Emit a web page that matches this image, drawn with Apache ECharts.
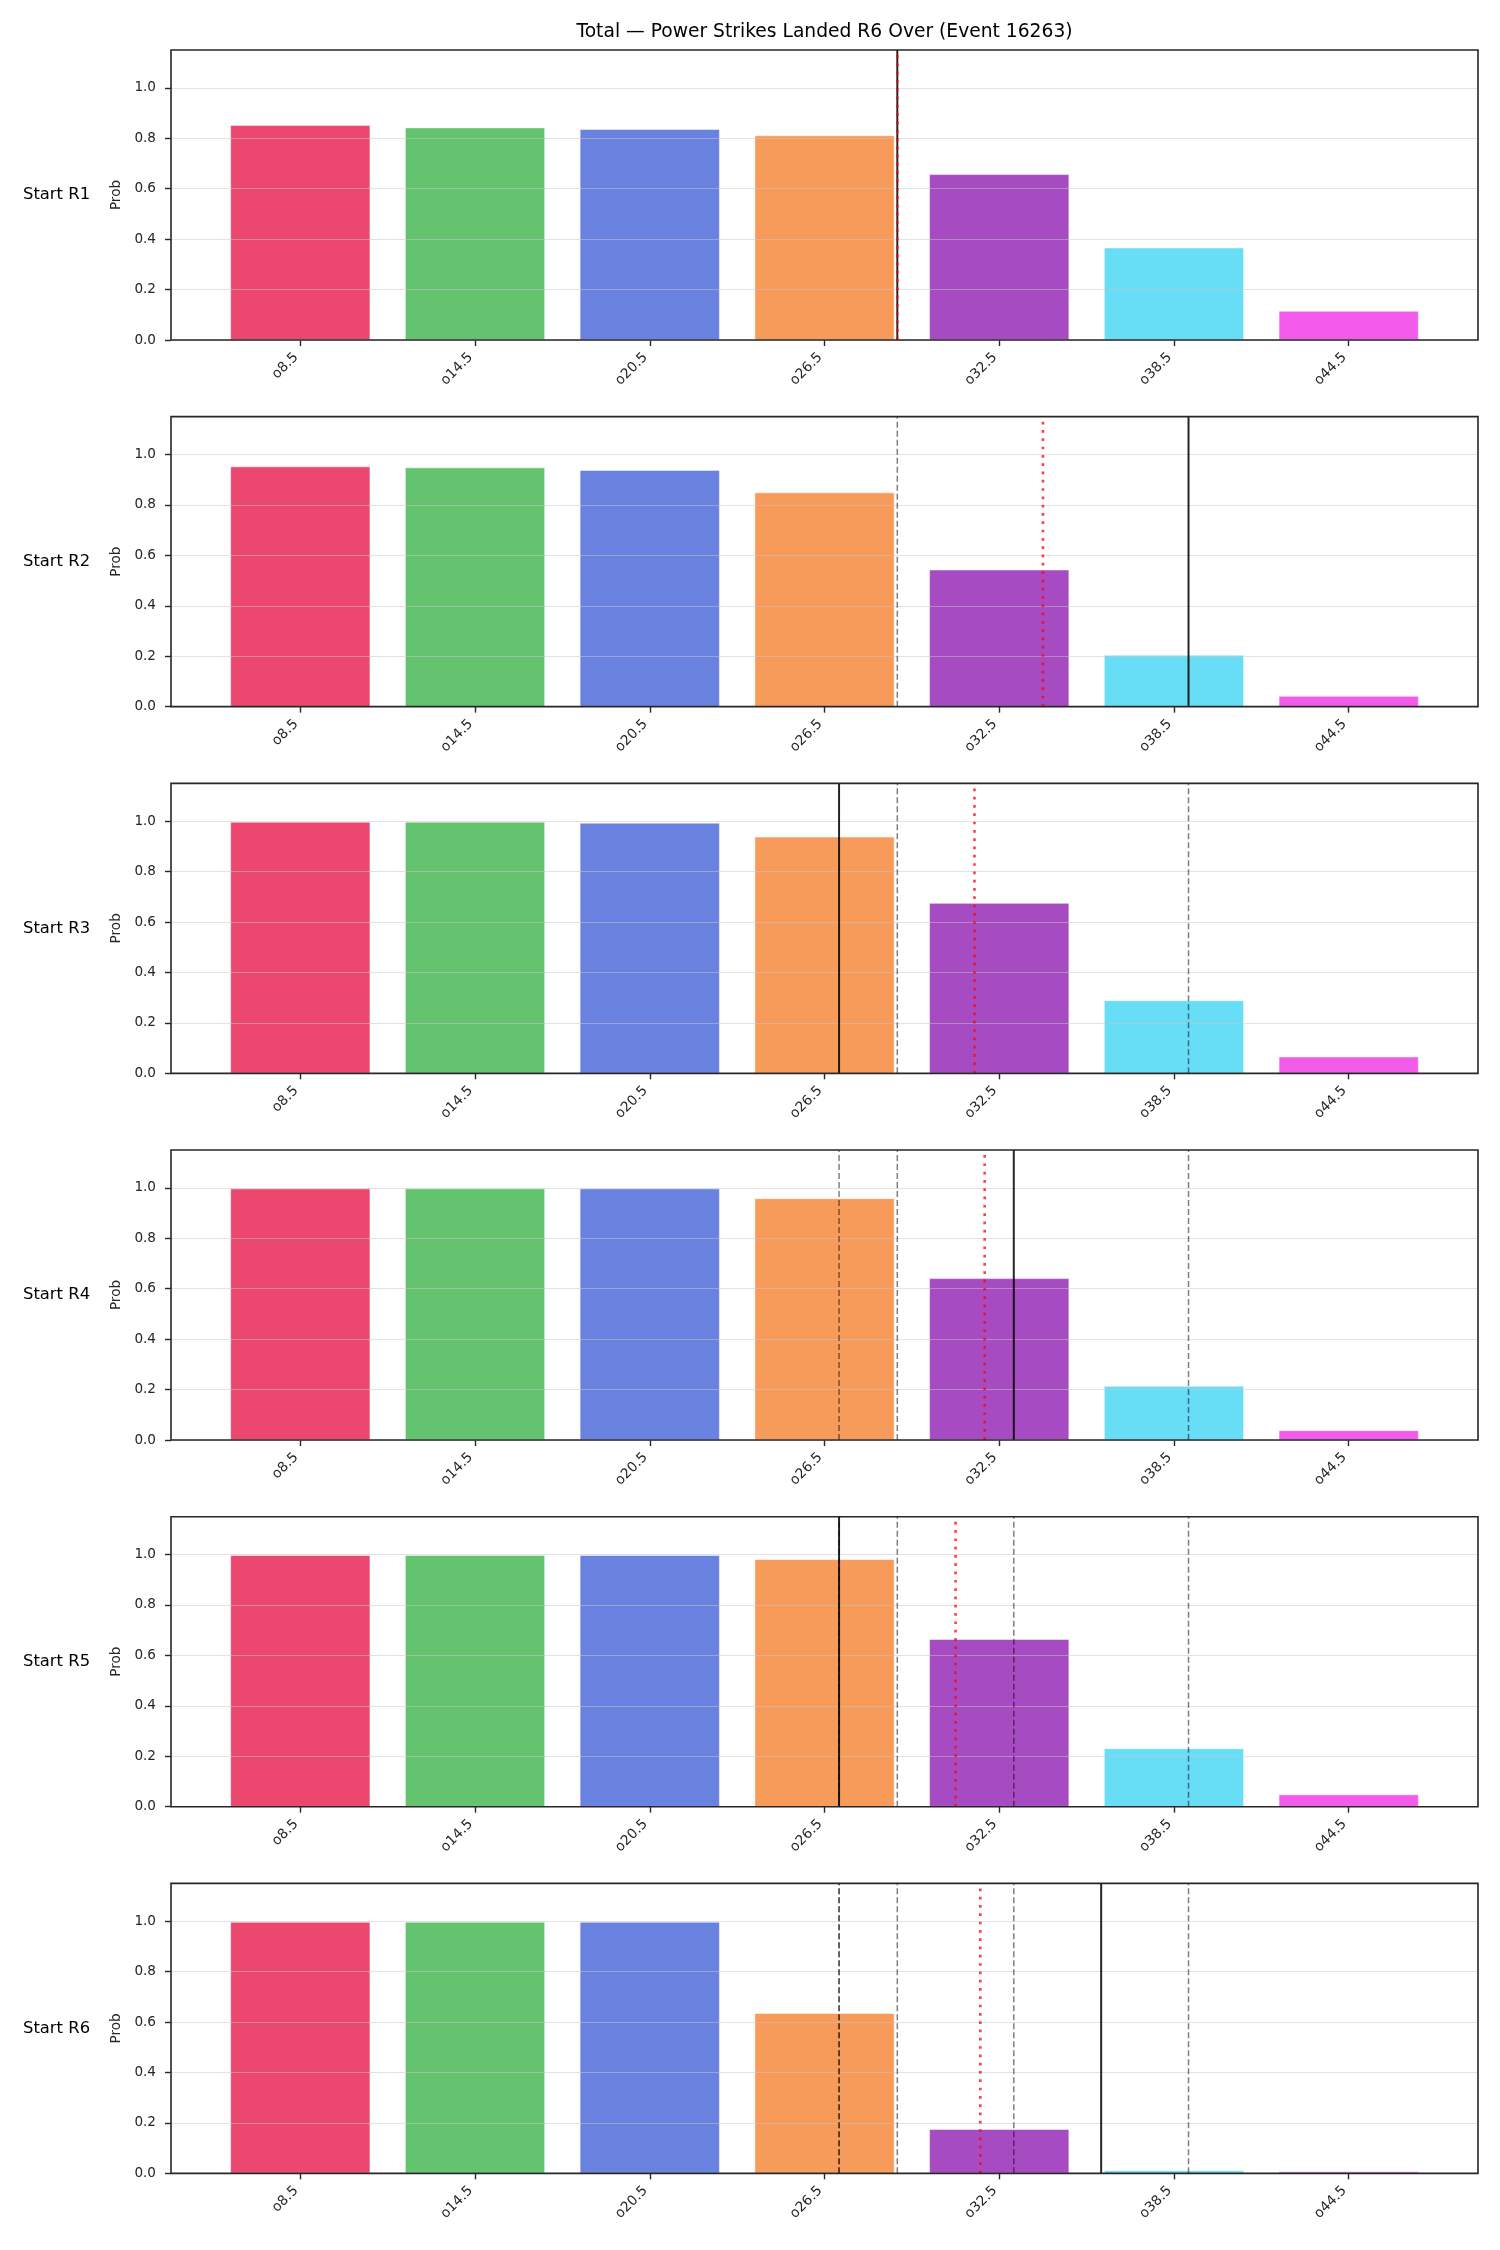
<!DOCTYPE html>
<html>
<head>
<meta charset="utf-8">
<script src="https://cdn.jsdelivr.net/npm/echarts@6/dist/echarts.min.js"></script>
<style>
  html, body { margin: 0; padding: 0; background: #fff; }
  #chart { width: 1500px; height: 2250px; }
</style>
</head>
<body>
<div id="chart"></div>
<script>
// lines on the x axis
const categories = ["o8.5", "o14.5", "o20.5", "o26.5", "o32.5", "o38.5", "o44.5"];
const lineValues = [8.5, 14.5, 20.5, 26.5, 32.5, 38.5, 44.5];
const rowLabels = ["Start R1", "Start R2", "Start R3", "Start R4", "Start R5", "Start R6"];

// prob of going over each line, one row per starting round
const probR1 = [0.852, 0.842, 0.836, 0.811, 0.657, 0.366, 0.115];
const probR2 = [0.952, 0.948, 0.938, 0.849, 0.543, 0.205, 0.042];
const probR3 = [0.997, 0.997, 0.993, 0.938, 0.675, 0.289, 0.066];
const probR4 = [0.997, 0.997, 0.997, 0.958, 0.641, 0.214, 0.038];
const probR5 = [0.997, 0.997, 0.997, 0.981, 0.664, 0.231, 0.048];
const probR6 = [0.997, 0.997, 0.997, 0.635, 0.175, 0.011, 0.007];
const probRows = [probR1, probR2, probR3, probR4, probR5, probR6];

// vertical markers (in strike units): solid black per row, red dotted per row
const blackLine = [29, 39, 27, 33, 27, 36];
const redLine = [29, 34, 31.65, 32, 31, 31.85];

const yTicks = [0, 0.2, 0.4, 0.6, 0.8, 1.0];
const barColors = ["#eb476f", "#63c36f", "#6982e0", "#f79b5a", "#a74bc3", "#68ddf6", "#f35beb"];

const titleText = "Total \u2014 Power Strikes Landed R6 Over (Event 16263)";

const FONT = "DejaVu Sans";
const TXT = "#262626";
const YMAX = 1.15;
const PAD = 0.74; // side margin in category units
const step = lineValues[1] - lineValues[0];

const gridLeft = 171, gridRight = 22, gridTop0 = 50, gridH = 290, gridStep = 366.67;
const plotW = 1500 - gridLeft - gridRight;
const catW = plotW / (categories.length - 1 + 2 * PAD);

let myChart = echarts.init(document.getElementById("chart"));

let grids = [], xAxes = [], yAxes = [], series = [], graphics = [];
let idx = categories.map((c, i) => i);

probRows.forEach(function (row, i) {
  let top = gridTop0 + i * gridStep;
  grids.push({
    left: gridLeft, right: gridRight, top: top, height: gridH,
    show: true, z: 5,
    borderColor: "#262626", borderWidth: 1.6,
    backgroundColor: "transparent",
  });
  // category index axis (visible)
  xAxes.push({
    gridIndex: i, type: "value",
    min: -PAD, max: categories.length - 1 + PAD,
    axisLine: { show: false, onZero: false },
    axisTick: { show: true, customValues: idx, length: 6, lineStyle: { color: TXT, width: 1.4 } },
    axisLabel: {
      customValues: idx, rotate: 45, margin: 11, padding: [0, 6, 0, 0],
      fontFamily: FONT, fontSize: 13.8, color: TXT,
      formatter: function (v) { return categories[Math.round(v)]; },
    },
    splitLine: { show: false },
  });
  // same span in strike units, for the markers (hidden)
  xAxes.push({
    gridIndex: i, type: "value", show: false,
    axisLine: { onZero: false },
    min: lineValues[0] - PAD * step,
    max: lineValues[lineValues.length - 1] + PAD * step,
  });
  yAxes.push({
    gridIndex: i, type: "value", min: 0, max: YMAX, interval: 0.2, z: 3,
    name: "Prob", nameLocation: "middle", nameGap: 47,
    nameTextStyle: { fontFamily: FONT, fontSize: 13.6, color: TXT },
    axisLine: { show: false, onZero: false },
    axisTick: { show: true, customValues: yTicks, length: 6, lineStyle: { color: TXT, width: 1.4 } },
    axisLabel: {
      customValues: yTicks, margin: 15,
      fontFamily: FONT, fontSize: 13.6, color: TXT,
      formatter: function (v) { return v.toFixed(1); },
    },
    splitLine: { show: true, lineStyle: { color: "rgba(200,200,200,0.5)", width: 1 } },
  });

  series.push({
    type: "bar", xAxisIndex: 2 * i, yAxisIndex: i,
    barWidth: catW * 0.8,
    itemStyle: { borderColor: "#ffffff", borderWidth: 0.5 },
    data: row.map(function (v, k) {
      return { value: [k, v], itemStyle: { color: barColors[k] } };
    }),
    silent: true,
  });

  // earlier rows' black markers, dashed
  for (let j = 0; j < i; j++) {
    series.push({
      type: "line", xAxisIndex: 2 * i + 1, yAxisIndex: i,
      symbol: "none", silent: true,
      lineStyle: { color: "rgba(0,0,0,0.5)", width: 1.5, type: [6, 3] },
      data: [[blackLine[j], 0], [blackLine[j], YMAX]],
    });
  }
  series.push({
    type: "line", xAxisIndex: 2 * i + 1, yAxisIndex: i,
    symbol: "none", silent: true,
    lineStyle: { color: "rgba(0,0,0,0.85)", width: 2 },
    data: [[blackLine[i], 0], [blackLine[i], YMAX]],
  });
  series.push({
    type: "line", xAxisIndex: 2 * i + 1, yAxisIndex: i,
    symbol: "none", silent: true,
    lineStyle: { color: "rgba(255,0,0,0.75)", width: 2.6, type: [2.7, 5.6] },
    data: [[redLine[i], 0], [redLine[i], YMAX]],
  });

  graphics.push({
    type: "text", x: 23, y: top + gridH / 2,
    style: { text: rowLabels[i], fontFamily: FONT, fontSize: 16.4, fill: "#000", align: "left", verticalAlign: "middle" },
  });
});

graphics.push({
  type: "text", x: gridLeft + plotW / 2, y: 32,
  style: { text: titleText, fontFamily: FONT, fontSize: 18.7, fill: "#000", align: "center", verticalAlign: "middle" },
});

let option = {
  backgroundColor: "#ffffff",
  animation: false,
  grid: grids,
  xAxis: xAxes,
  yAxis: yAxes,
  series: series,
  graphic: graphics,
};

myChart.setOption(option);
</script>
</body>
</html>
